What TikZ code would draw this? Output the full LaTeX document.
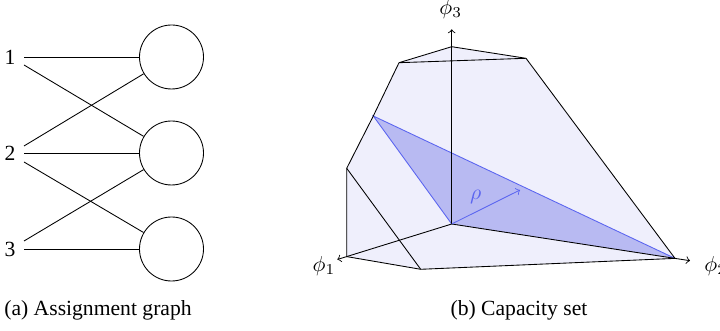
\documentclass[tikz,border=0pt]{standalone}
\usepackage{fontspec}
\setmainfont{Liberation Serif}
\definecolor{polyfill}{RGB}{239,239,252}
\definecolor{trifill}{RGB}{184,186,242}
\definecolor{triedge}{RGB}{90,100,240}
\begin{document}
\begin{tikzpicture}[x=0.4625pt,y=-0.4625pt,
  lbl/.style={inner sep=0pt},
  slot/.style={draw,circle,minimum size=29.6pt,inner sep=0pt},
  edge/.style={draw,black},
  axis/.style={->,black},
  bluearrow/.style={->,triedge}]
\useasboundingbox (0,0) rectangle (720,331);
% ---------- (a) assignment graph
\node[lbl] (l1) at (10,57) {1};
\node[lbl] (l2) at (10,153) {2};
\node[lbl] (l3) at (10,249) {3};
\node[slot] (c1) at (171.5,57) {};
\node[slot] (c2) at (171.5,153) {};
\node[slot] (c3) at (171.5,249) {};
\coordinate (s1a) at (24,57);
\coordinate (s1b) at (24,65);
\coordinate (s2a) at (24,146);
\coordinate (s2b) at (24,153);
\coordinate (s2c) at (24,162);
\coordinate (s3a) at (24,241);
\coordinate (s3b) at (24,249);
\draw (s1a) -- (c1);
\draw (s1b) -- (c2);
\draw (s2a) -- (c1);
\draw (s2b) -- (c2);
\draw (s2c) -- (c3);
\draw (s3a) -- (c2);
\draw (s3b) -- (c3);
\node[lbl] (capa) at (98,310) {(a) Assignment graph};
% ---------- (b) capacity set
\coordinate (O) at (451.7,224);
\coordinate (T0) at (451.7,46.7);
\coordinate (TL) at (399,62.7);
\coordinate (TR) at (526,58.3);
\coordinate (A) at (373.3,116);
\coordinate (L1) at (346.7,168.3);
\coordinate (P1) at (346.7,256.6);
\coordinate (B) at (420.7,269.3);
\coordinate (C) at (675,258.4);
\coordinate (X1) at (337.3,259.5);
\coordinate (X2) at (690,260.7);
\coordinate (X3) at (451.7,29.3);
\coordinate (R) at (520,190);
\fill[polyfill] (T0) -- (TR) -- (C) -- (B) -- (P1) -- (L1) -- (A) -- (TL) -- cycle;
\fill[trifill] (A) -- (O) -- (C) -- cycle;
\draw[triedge] (C) -- (A) -- (O);
\draw[edge] (TL) -- (T0) -- (TR) -- (TL);
\draw[edge] (TR) -- (C);
\draw[edge] (TL) -- (A) -- (L1) -- (P1) -- (B) -- (C);
\draw[edge] (L1) -- (B);
\draw[axis] (O) -- (X3);
\draw[axis] (O) -- (X1);
\draw[axis] (O) -- (X2);
\draw[bluearrow] (O) -- (R);
\node[lbl] (phi3) at (450.7,9.3) {$\phi_3$};
\node[lbl] (phi1) at (324,266) {$\phi_1$};
\node[lbl,anchor=west] (phi2) at (704,266) {$\phi_2$};
\node[lbl,text=triedge] (rho) at (475.7,196.7) {$\rho$};
\node[lbl] (capb) at (519,310) {(b) Capacity set};
\end{tikzpicture}
\end{document}
